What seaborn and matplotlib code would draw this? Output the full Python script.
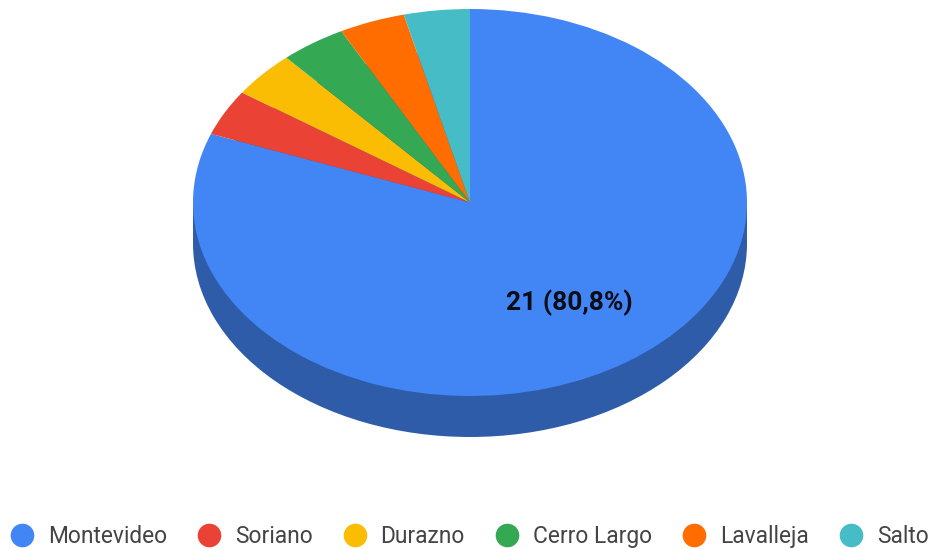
import matplotlib
matplotlib.use("Agg")
import matplotlib.pyplot as plt
from matplotlib.lines import Line2D
from matplotlib.patches import Rectangle
import seaborn as sns

departments = ["Montevideo", "Soriano", "Durazno", "Cerro Largo", "Lavalleja", "Salto"]
counts = [21, 1, 1, 1, 1, 1]
slice_colors = ["#4285f4", "#ea4335", "#fbbc04", "#34a853", "#ff6d01", "#46bdc6"]
side_color = "#2f5ca9"

sns.set_theme(style="white")
plt.rcParams["font.family"] = ["Roboto", "DejaVu Sans"]
palette = sns.color_palette(slice_colors)

WIDTH, HEIGHT = 932, 549
CX, CY = 470, 202.5
RX, RY = 277, 193.5
DEPTH = 41 / RY

fig = plt.figure(figsize=(WIDTH / 100, HEIGHT / 100), dpi=100, facecolor="white")
ax = fig.add_axes([0, 0, 1, 1])


def slice_label(pct):
    # Only the dominant slice is large enough to carry a label
    if pct < 10:
        return ""
    value = round(pct / 100 * sum(counts))
    return f"{value} ({pct:.1f}%)".replace(".", ",")


# Extruded rim: lower disc and the band joining it to the top face
ax.pie([1], colors=[side_color], center=(0, -DEPTH), radius=1,
       wedgeprops={"linewidth": 0})
ax.add_patch(Rectangle((-1, -DEPTH), 2, DEPTH, facecolor=side_color, linewidth=0))

# Top face
_, _, autotexts = ax.pie(counts, colors=palette, startangle=90, counterclock=False,
                         radius=1, autopct=slice_label, pctdistance=0.63,
                         wedgeprops={"linewidth": 0})
for label in autotexts:
    label.set(fontsize=19, fontweight="bold", color="#0c0c14")

# Stretch the unit disc into the tilted ellipse
ax.set_aspect("auto")
ax.set_xlim(-CX / RX, (WIDTH - CX) / RX)
ax.set_ylim(-(HEIGHT - CY) / RY, CY / RY)
ax.axis("off")

handles = [Line2D([], [], linestyle="none", marker="o", markersize=17,
                  markerfacecolor=c, markeredgewidth=0) for c in palette]
fig.legend(handles, departments, ncol=6, frameon=False, fontsize=16.4,
           loc="lower left", bbox_to_anchor=(10.5 / WIDTH, 1 / HEIGHT),
           borderpad=0, borderaxespad=0, handlelength=1, handletextpad=0.63,
           columnspacing=1.355, labelcolor="#444444")

fig.savefig("out.png", dpi=100, facecolor="white")
